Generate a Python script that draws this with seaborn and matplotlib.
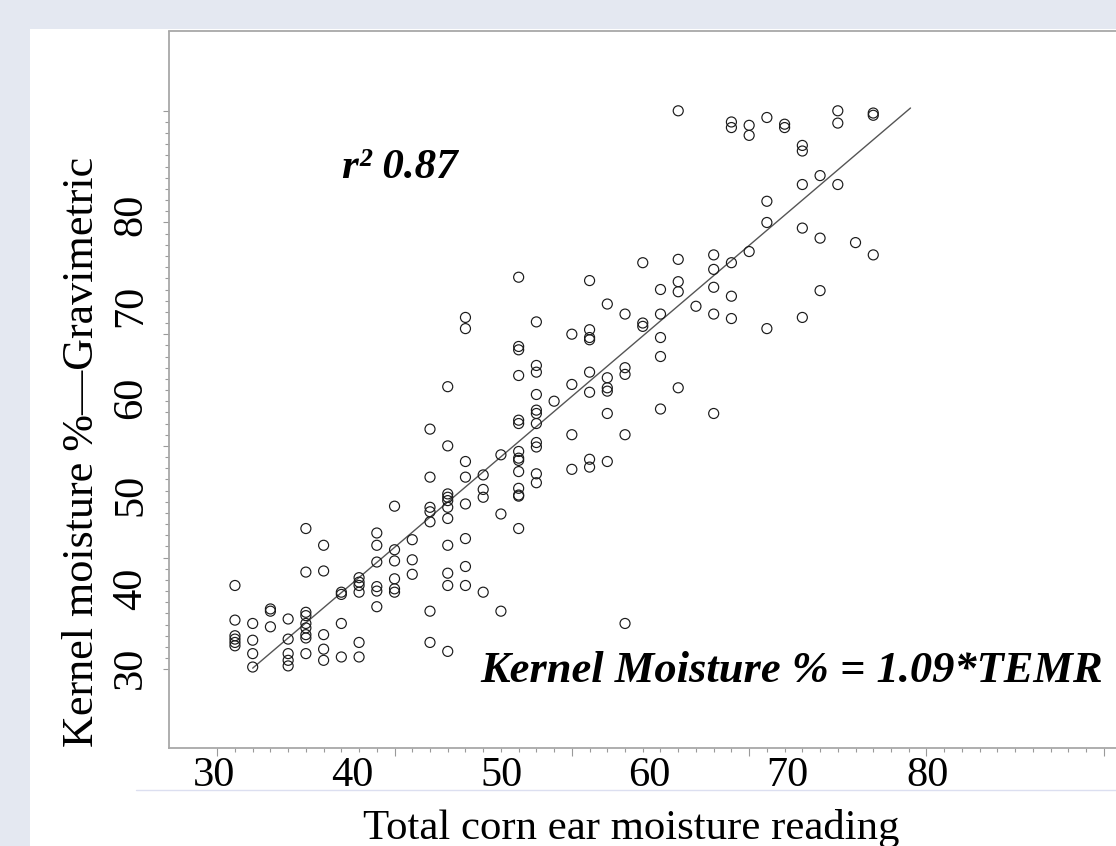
import matplotlib
matplotlib.use("Agg")
import matplotlib.pyplot as plt
from matplotlib.patches import Rectangle
from matplotlib.lines import Line2D
import seaborn as sns
import pandas as pd

# ---------------- data ----------------
temr_reading = [
    31, 31, 31, 31, 31, 31,
    32, 32, 32, 32,
    33, 33, 33,
    34, 34, 34, 34, 34,
    35, 35, 35, 35, 35, 35, 35, 35, 35,
    36, 36, 36, 36, 36,
    37, 37, 37, 37,
    38, 38, 38, 38, 38, 38,
    39, 39, 39, 39, 39, 39,
    40, 40, 40, 40, 40, 40,
    41, 41, 41,
    42, 42, 42, 42, 42, 42, 42,
    43, 43, 43, 43, 43, 43, 43, 43, 43, 43, 43,
    44, 44, 44, 44, 44, 44, 44, 44,
    45, 45, 45, 45,
    46, 46, 46,
    47, 47, 47, 47, 47, 47, 47, 47, 47, 47, 47, 47, 47, 47,
    48, 48, 48, 48, 48, 48, 48, 48, 48, 48, 48,
    49,
    50, 50, 50, 50,
    51, 51, 51, 51, 51, 51, 51, 51,
    52, 52, 52, 52, 52, 52,
    53, 53, 53, 53, 53,
    54, 54, 54,
    55, 55, 55, 55, 55,
    56, 56, 56, 56, 56,
    57,
    58, 58, 58, 58, 58,
    59, 59, 59, 59, 59,
    60, 60, 60,
    61, 61, 61, 61,
    62, 62,
    63, 63, 63, 63, 63,
    64, 64, 64,
    65, 65, 65,
    66,
    67, 67, 67,
]
kernel_moisture = [
    37.5, 34.4, 33.0, 32.7, 32.4, 32.1,
    34.1, 32.6, 31.4, 30.2,
    35.4, 35.2, 33.8,
    34.5, 32.7, 31.4, 30.8, 30.3,
    42.6, 38.7, 35.1, 34.8, 34.1, 33.7, 33.1, 32.8, 31.4,
    41.1, 38.8, 33.1, 31.8, 30.8,
    36.9, 36.7, 34.1, 31.1,
    38.2, 37.8, 37.5, 36.9, 32.4, 31.1,
    42.2, 41.1, 39.6, 37.4, 37.0, 35.6,
    44.6, 40.7, 39.7, 38.1, 37.2, 36.9,
    41.6, 39.8, 38.5,
    51.5, 47.2, 44.5, 44.1, 43.2, 35.2, 32.4,
    55.3, 50.0, 45.7, 45.4, 45.1, 44.5, 43.5, 41.1, 38.6, 37.5, 31.6,
    61.5, 60.5, 48.6, 47.2, 44.8, 41.7, 39.2, 37.5,
    47.4, 46.1, 45.4, 36.9,
    49.2, 43.9, 35.2,
    65.1, 58.9, 58.6, 56.3, 52.3, 52.0, 49.5, 48.9, 48.7, 47.7, 46.2, 45.6, 45.5, 42.6,
    61.1, 57.2, 56.6, 54.6, 53.2, 52.9, 52.0, 50.3, 49.9, 47.5, 46.7,
    54.0,
    60.0, 55.5, 51.0, 47.9,
    64.8, 60.4, 59.7, 59.5, 56.6, 54.8, 48.8, 48.1,
    62.7, 56.1, 55.2, 54.9, 52.9, 48.6,
    61.8, 57.0, 56.4, 51.0, 34.1,
    66.4, 61.0, 60.7,
    64.0, 61.8, 59.7, 58.0, 53.3,
    80.0, 66.7, 64.7, 63.8, 55.2,
    62.5,
    67.1, 65.8, 64.2, 61.8, 52.9,
    79.0, 78.5, 66.4, 63.4, 61.4,
    78.7, 77.8, 67.4,
    79.4, 71.9, 70.0, 60.5,
    78.8, 78.5,
    76.9, 76.4, 73.4, 69.5, 61.5,
    74.2, 68.6, 63.9,
    80.0, 78.9, 73.4,
    68.2,
    79.8, 79.6, 67.1,
]
fit_x = [32.0, 69.1]
fit_y = [30.1, 80.25]

axis_ticks = [30, 40, 50, 60, 70, 80]
tick_labels = ["30", "40", "50", "60", "70", "80"]
x_title = "Total corn ear moisture reading"
y_title = "Kernel moisture %\u2014Gravimetric"
r2_text = "r\u00b2 0.87"
eq_text = "Kernel Moisture % = 1.09*TEMR"

# ---------------- figure ----------------
sns.set_theme(style="white")
plt.rcParams["font.family"] = ["Liberation Serif", "DejaVu Serif"]

W, H = 1116, 846
fig = plt.figure(figsize=(W / 100, H / 100), dpi=100)
fig.patch.set_facecolor("#E4E8F1")
fig.add_artist(Rectangle((30 / W, 0), (W - 30) / W, (H - 29.5) / H,
                         transform=fig.transFigure, facecolor="white",
                         edgecolor="none", zorder=0))
fig.add_artist(Line2D([136 / W, 1.0], [1 - 790 / H, 1 - 790 / H],
                      transform=fig.transFigure, color="#DCDFF0", lw=1.0, zorder=1))

ax = fig.add_axes([169 / W, 1 - 748 / H, (W - 169) / W, (748 - 31.5) / H])
ax.set_facecolor("white")

df = pd.DataFrame({"temr": temr_reading, "kernel": kernel_moisture})
sns.scatterplot(data=df, x="temr", y="kernel", ax=ax, marker="o", s=52,
                linewidth=0.85, legend=False, zorder=3)
coll = ax.collections[0]
coll.set_facecolor("none")
coll.set_edgecolor("#1a1a1a")

sns.lineplot(x=fit_x, y=fit_y, ax=ax, color="#555555", linewidth=1.0, zorder=2)

ax.set_xlim(27.28, 80.69)
ax.set_ylim(22.95, 87.10)

ax.set_xticks(axis_ticks)
ax.set_xticks(range(30, 81), minor=True)
ax.set_yticks(axis_ticks)
ax.set_yticks(range(30, 81), minor=True)
ax.set_xticklabels([])
ax.set_yticklabels([])
ax.tick_params(axis="x", which="major", direction="out", length=5.8, width=0.8,
               color="#9a9a9a", bottom=True)
ax.tick_params(axis="x", which="minor", direction="out", length=3.2, width=0.8,
               color="#9a9a9a", bottom=True)
ax.tick_params(axis="y", which="major", direction="out", length=4.4, width=0.8,
               color="#9a9a9a", left=True)
ax.tick_params(axis="y", which="minor", direction="out", length=3.0, width=0.8,
               color="#9a9a9a", left=True)
ax.set_xlabel("")
ax.set_ylabel("")

for side in ["left", "top", "bottom"]:
    ax.spines[side].set_visible(True)
    ax.spines[side].set_color("#a8a8a8")
    ax.spines[side].set_linewidth(1.3)
ax.spines["right"].set_visible(False)

# tick labels (placed where they appear in the reference)
xlab_pos = [29.84, 37.64, 46.06, 54.35, 62.18, 70.08]
ylab_pos = [30.12, 37.23, 45.6, 54.33, 62.52, 70.67]
for p, t in zip(xlab_pos, tick_labels):
    ax.text(p, 20.45, t, ha="center", va="center", fontsize=30.5,
            color="black", clip_on=False)
for p, t in zip(ylab_pos, tick_labels):
    ax.text(25.13, p, t, ha="center", va="center", rotation=90, fontsize=30.5,
            color="black", clip_on=False)

fig.text(631 / W, 1 - 828 / H, x_title, ha="center", va="center",
         fontsize=30.8, color="black")
fig.text(82 / W, 1 - 452 / H, y_title, ha="center", va="center",
         rotation=90, fontsize=31.8, color="black")

ax.text(37.03, 74.88, r2_text, ha="left", va="center", fontsize=31,
        fontweight="bold", fontstyle="italic", color="black")
ax.text(62.4, 29.8, eq_text, ha="center", va="center", fontsize=32,
        fontweight="bold", fontstyle="italic", color="black")

fig.savefig("out.png", dpi=100, facecolor=fig.get_facecolor())
